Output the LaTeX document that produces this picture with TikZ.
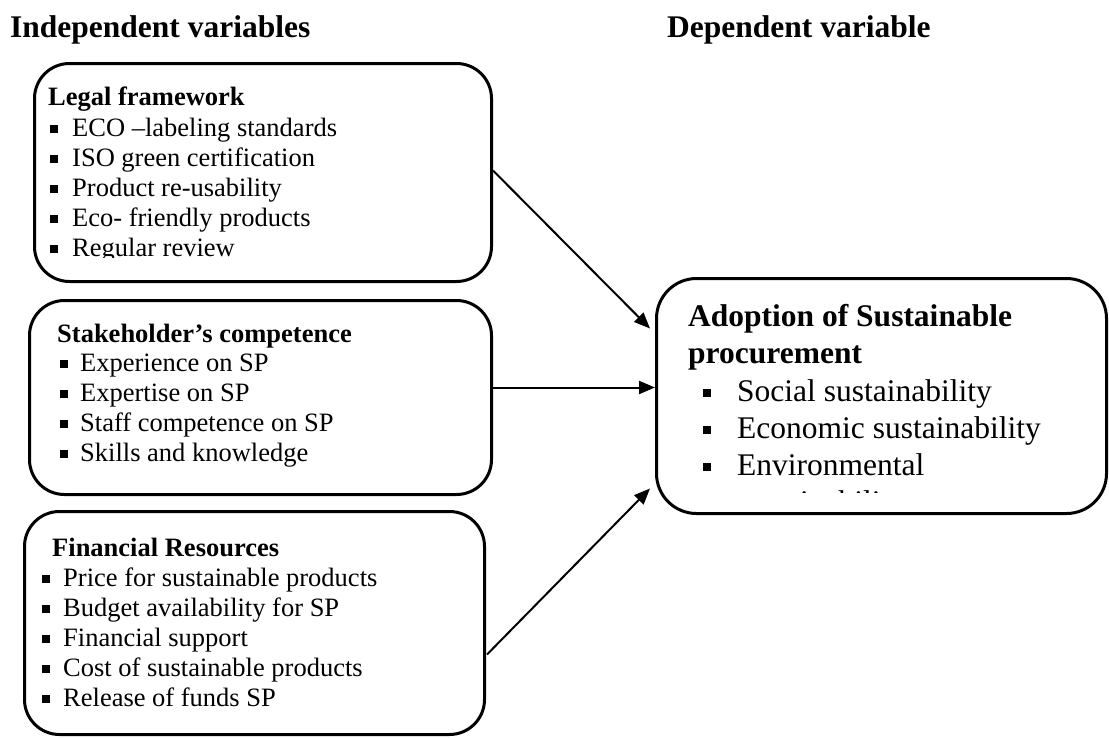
\documentclass[tikz,border=0pt]{standalone}
\usepackage{fontspec}
\setmainfont{Liberation Serif}
\usetikzlibrary{arrows.meta}
\newcommand\sqb[1]{\makebox[#1][l]{\rule[3.5pt]{7.5pt}{7.5pt}}}
\newcommand\sqB[1]{\makebox[#1][l]{\rule[4.5pt]{8pt}{8pt}}}
\tikzset{
  box/.style={draw, line width=3pt, rounded corners=35pt, inner sep=0pt, anchor=north west},
  txt/.style={inner sep=0pt, anchor=base west, font=\fontsize{26.5pt}{30pt}\selectfont},
  ttl/.style={txt, font=\fontsize{26.5pt}{30pt}\selectfont\bfseries},
  head/.style={inner sep=0pt, anchor=base west, font=\fontsize{31.5pt}{36pt}\selectfont\bfseries},
  rtxt/.style={inner sep=0pt, anchor=base west, font=\fontsize{31.5pt}{36pt}\selectfont},
  arr/.style={line width=2pt, -{Triangle[length=16pt,width=13pt]}}
}
\begin{document}
\begin{tikzpicture}[x=1pt,y=-1pt]
\useasboundingbox (0,0) rectangle (1109,737);

\node[head] (h1) at (10,37) {Independent variables};
\node[head] (h2) at (667,37) {Dependent variable};

% boxes
\node[box, minimum width=457pt, minimum height=218pt] (b1) at (33,62) {};
\node[box, minimum width=462pt, minimum height=194pt] (b2) at (28,299) {};
\node[box, minimum width=460pt, minimum height=223pt] (b3) at (23,510) {};
\node[box, rounded corners=40pt, minimum width=450pt, minimum height=235pt] (r) at (655,277) {};

% box 1 text
\begin{scope}
\clip (30,60) rectangle (495,257);
\node[ttl] (t1) at (48,105) {Legal framework};
\node[txt] (t1a) at (50,136) {\sqb{22pt}ECO –labeling standards};
\node[txt] (t1b) at (50,166) {\sqb{22pt}ISO green certification};
\node[txt] (t1c) at (50,196) {\sqb{22pt}Product re-usability};
\node[txt] (t1d) at (50,226) {\sqb{22pt}Eco- friendly products};
\node[txt] (t1e) at (50,256) {\sqb{22pt}Regular review};
\end{scope}

% box 2 text
\node[ttl] (t2) at (57,342) {Stakeholder’s competence};
\node[txt] (t2a) at (60,371) {\sqb{20pt}Experience on SP};
\node[txt] (t2b) at (60,401) {\sqb{20pt}Expertise on SP};
\node[txt] (t2c) at (60,431) {\sqb{20pt}Staff competence on SP};
\node[txt] (t2d) at (60,461) {\sqb{20pt}Skills and knowledge};

% box 3 text
\node[ttl] (t3) at (52,556) {Financial Resources};
\node[txt] (t3a) at (42,586) {\sqb{21pt}Price for sustainable products};
\node[txt] (t3b) at (42,616) {\sqb{21pt}Budget availability for SP};
\node[txt] (t3c) at (42,646) {\sqb{21pt}Financial support};
\node[txt] (t3d) at (42,676) {\sqb{21pt}Cost of sustainable products};
\node[txt] (t3e) at (42,706) {\sqb{21pt}Release of funds SP};

% right box text
\begin{scope}
\clip (650,270) rectangle (1109,492);
\node[head] (r1) at (688,326) {Adoption of Sustainable};
\node[head] (r2) at (688,363) {procurement};
\node[rtxt] (ra) at (703,401) {\sqB{34pt}Social sustainability};
\node[rtxt] (rb) at (703,438) {\sqB{34pt}Economic sustainability};
\node[rtxt] (rc) at (703,475) {\sqB{34pt}Environmental};
\node[rtxt] (rd) at (737,512) {sustainability};
\end{scope}

% arrows
\draw[arr] ([yshift=2pt]b1.east) -- ([xshift=-5pt,yshift=67.5pt]r.west);
\draw[arr] ([yshift=10pt]b2.east) -- ([yshift=10pt]b2.east -| r.west);
\draw[arr] ([xshift=1pt,yshift=-31.5pt]b3.east) -- ([xshift=-5pt,yshift=-92.5pt]r.west);
\end{tikzpicture}
\end{document}
